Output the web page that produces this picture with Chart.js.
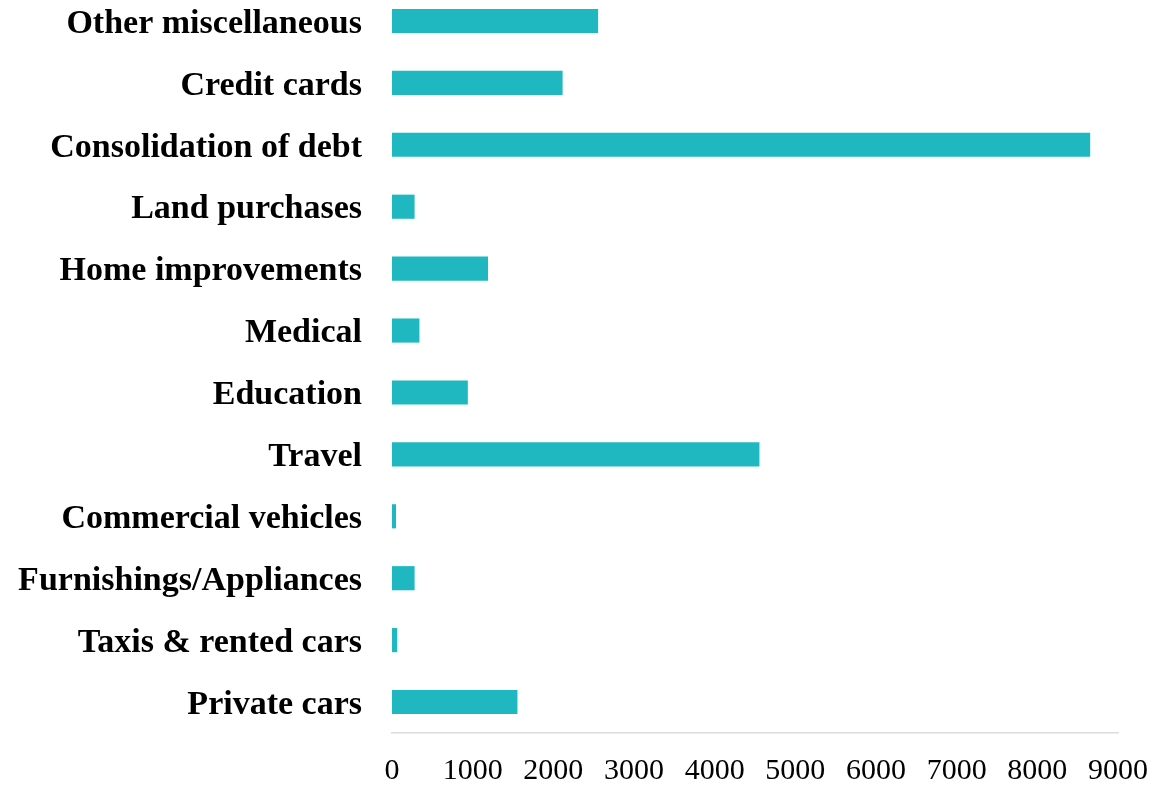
<!DOCTYPE html>
<html lang="en">
<head>
  <meta charset="UTF-8" />
  <title>Loan purposes</title>
  <script src="https://cdn.jsdelivr.net/npm/chart.js"></script>
  <style>
    html, body { margin: 0; padding: 0; background: #fff; overflow: hidden; }
    #wrap { position: absolute; left: 0; top: -10px; width: 1153px; height: 796px; }
  </style>
</head>
<body>
  <div id="wrap"><canvas id="chart"></canvas></div>

  <script>
    const categories = [
      "Other miscellaneous", "Credit cards", "Consolidation of debt", "Land purchases",
      "Home improvements", "Medical", "Education", "Travel",
      "Commercial vehicles", "Furnishings/Appliances", "Taxis & rented cars", "Private cars"
    ];
    const amounts = [2555, 2115, 8655, 280, 1190, 340, 940, 4555, 50, 280, 65, 1555];
    const tickValues = [0, 1000, 2000, 3000, 4000, 5000, 6000, 7000, 8000, 9000];

    const serif = "'Liberation Serif', 'DejaVu Serif', serif";

    // chart area is pinned: no auto padding from the tick labels
    const noPad = s => { s.paddingTop = 0; s.paddingBottom = 0; s.paddingLeft = 0; s.paddingRight = 0; };

    new Chart(document.getElementById("chart").getContext("2d"), {
      type: 'bar',
      data: {
        labels: categories,
        datasets: [{
          data: amounts,
          backgroundColor: "#1fb8c1",
          borderWidth: 0,
          barPercentage: 0.78,
          categoryPercentage: 0.5
        }]
      },
      options: {
        indexAxis: 'y',
        responsive: true,
        maintainAspectRatio: false,
        animation: false,
        layout: { padding: { left: 0, right: 35, top: 0, bottom: 0 } },
        plugins: { legend: { display: false }, tooltip: { enabled: false } },
        scales: {
          x: {
            min: 0, max: 9000,
            afterBuildTicks: s => { s.ticks = tickValues.map(v => ({ value: v })); },
            grid: { display: false, drawTicks: false },
            border: { display: true, color: "#dcdcdc", width: 1.5 },
            ticks: {
              color: "#000",
              padding: 20,
              maxRotation: 0,
              font: { family: serif, size: 30 },
              callback: v => String(v)
            },
            afterFit: s => { s.height = 53; noPad(s); }
          },
          y: {
            grid: { display: false, drawTicks: false },
            border: { display: false },
            ticks: {
              color: "#000",
              padding: 30,
              labelOffset: 3,
              font: { family: serif, size: 34, weight: 'bold' }
            },
            afterFit: s => { s.width = 392; noPad(s); }
          }
        }
      }
    });
  </script>
</body>
</html>
